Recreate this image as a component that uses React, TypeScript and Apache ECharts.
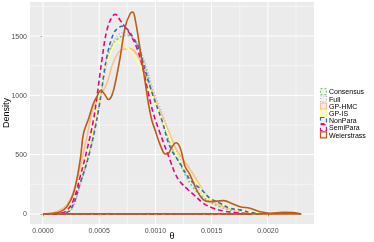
import React, { useEffect, useRef } from "react";
import * as echarts from "echarts";

// ---- data ----
const seriesNames = ["Consensus", "Full", "GP-HMC", "GP-IS", "NonPara", "SemiPara", "Weierstrass"];
const seriesColors = ["#7FC97F", "#BEAED4", "#FDC086", "#FFFF99", "#386CB0", "#F0027F", "#BF5B17"];

const consensusX = [0.00002, 0.000154, 0.000242, 0.000331, 0.00042, 0.000494, 0.000524, 0.000583, 0.000657, 0.000746, 0.00082, 0.000909, 0.000982, 0.001057, 0.00113, 0.001219, 0.001338, 0.001486, 0.001575, 0.001663, 0.001752, 0.00185, 0.0019];
const consensusY = [0, 5, 28, 260, 570, 930, 1100, 1352, 1470, 1506, 1460, 1240, 1000, 800, 600, 420, 220, 100, 60, 35, 18, 5, 0];

const fullX = [0.00002, 0.000154, 0.000242, 0.000331, 0.00042, 0.000494, 0.000553, 0.000613, 0.000671, 0.000731, 0.000775, 0.000835, 0.000909, 0.000982, 0.001071, 0.00113, 0.001219, 0.001308, 0.001397, 0.001486, 0.001575, 0.001663, 0.001752, 0.00185, 0.00195];
const fullY = [0, 5, 25, 240, 540, 880, 1200, 1420, 1510, 1530, 1505, 1445, 1270, 1040, 820, 650, 460, 310, 205, 125, 78, 45, 25, 10, 0];

const gpHmcX = [0, 0.000065, 0.000154, 0.000213, 0.000272, 0.000331, 0.000391, 0.000449, 0.000509, 0.000568, 0.000627, 0.000702, 0.000775, 0.000849, 0.000924, 0.001012, 0.001101, 0.00119, 0.001293, 0.001368, 0.001456, 0.001515, 0.001604, 0.001723, 0.00185, 0.00199, 0.0021];
const gpHmcY = [0, 5, 34, 76, 188, 398, 650, 903, 995, 1100, 1281, 1385, 1394, 1323, 1155, 931, 735, 538, 398, 286, 150, 100, 60, 30, 12, 3, 0];

const gpIsX = [0.00002, 0.000154, 0.000242, 0.000331, 0.00042, 0.000494, 0.000553, 0.000613, 0.000657, 0.000687, 0.000731, 0.000775, 0.000835, 0.000924, 0.001012, 0.001101, 0.001219, 0.001368, 0.001456, 0.001575, 0.001723, 0.0019, 0.002];
const gpIsY = [0, 12, 45, 290, 600, 950, 1240, 1380, 1450, 1440, 1408, 1380, 1296, 1100, 903, 707, 440, 258, 146, 90, 34, 11, 0];

const nonParaX = [0.00002, 0.000154, 0.000242, 0.000331, 0.00042, 0.000494, 0.000568, 0.000627, 0.000665, 0.000702, 0.00076, 0.000805, 0.000849, 0.000909, 0.000982, 0.001057, 0.00113, 0.001219, 0.001308, 0.001412, 0.001486, 0.001575, 0.001663, 0.001752, 0.001856, 0.00195];
const nonParaY = [0, 5, 34, 258, 538, 875, 1323, 1520, 1565, 1582, 1548, 1480, 1408, 1211, 987, 791, 566, 427, 290, 202, 132, 90, 48, 34, 11, 0];

const semiParaX = [0.00002, 0.000154, 0.000213, 0.000272, 0.000331, 0.000391, 0.000449, 0.00048, 0.000524, 0.000568, 0.000613, 0.000642, 0.000687, 0.000731, 0.000775, 0.000835, 0.000893, 0.000938, 0.000982, 0.001042, 0.00113, 0.001175, 0.001219, 0.001293, 0.001338, 0.001426, 0.001515, 0.001604, 0.001708, 0.00185];
const semiParaY = [0, 5, 30, 118, 314, 538, 791, 987, 1296, 1548, 1660, 1683, 1632, 1575, 1515, 1400, 1211, 1015, 847, 679, 454, 342, 272, 202, 165, 90, 48, 25, 11, 0];

const weierX = [0, 0.00006, 0.000154, 0.000213, 0.000272, 0.000331, 0.000361, 0.000405, 0.000449, 0.00048, 0.000515, 0.000548, 0.000583, 0.000613, 0.000642, 0.000687, 0.000731, 0.000775, 0.000799, 0.000822, 0.000849, 0.000875, 0.000909, 0.000938, 0.000968, 0.001, 0.001027, 0.001071, 0.001093, 0.001115, 0.001145, 0.001182, 0.001219, 0.001264, 0.001308, 0.001368, 0.001426, 0.001486, 0.00155, 0.001604, 0.001663, 0.001752, 0.001841, 0.00193, 0.002019, 0.002137, 0.002226, 0.002296];
const weierY = [0, 3, 19, 61, 174, 454, 680, 800, 931, 990, 1043, 1010, 965, 1000, 1100, 1323, 1576, 1688, 1702, 1630, 1480, 1320, 1110, 930, 790, 700, 622, 520, 505, 510, 560, 600, 560, 400, 330, 200, 120, 103, 108, 112, 95, 61, 48, 19, 6, 14, 11, 0];

const thetaTicks = [0, 0.0005, 0.001, 0.0015, 0.002];
const thetaMinor = [0.00025, 0.00075, 0.00125, 0.00175, 0.00225];
const densityTicks = [0, 500, 1000, 1500];
const densityMinor = [250, 750, 1250, 1750];

const seriesX = [consensusX, fullX, gpHmcX, gpIsX, nonParaX, semiParaX, weierX];
const seriesY = [consensusY, fullY, gpHmcY, gpIsY, nonParaY, semiParaY, weierY];

const FONT = "'Liberation Sans', Arial, sans-serif";

export default function App() {
  const ref = useRef<HTMLDivElement>(null);
  useEffect(() => {
    if (!ref.current) return;
    const chart = echarts.init(ref.current, null, { renderer: "svg" });
    const xMin = -0.000115, xMax = 0.00241, yMin = -85, yMax = 1787;
    const dashes: any[] = [[2, 2], [1, 2], "solid", "solid", [4, 3], [5, 3], "solid"];

    const gridSeries: any[] = [];
    const addV = (v: number, w: number) => gridSeries.push({
      type: "line", data: [[v, yMin], [v, yMax]], symbol: "none", silent: true, z: 1,
      lineStyle: { color: "#FFFFFF", width: w }, tooltip: { show: false },
    });
    const addH = (v: number, w: number) => gridSeries.push({
      type: "line", data: [[xMin, v], [xMax, v]], symbol: "none", silent: true, z: 1,
      lineStyle: { color: "#FFFFFF", width: w }, tooltip: { show: false },
    });
    thetaMinor.forEach((v) => addV(v, 0.5));
    densityMinor.forEach((v) => addH(v, 0.5));
    thetaTicks.forEach((v) => addV(v, 1));
    densityTicks.forEach((v) => addH(v, 1));

    const dataSeries: any[] = [];
    seriesNames.forEach((name, i) => {
      const xs = seriesX[i], ys = seriesY[i];
      dataSeries.push({
        name, type: "line", smooth: 0.4, symbol: "none", z: 3,
        data: xs.map((x, j) => [x, ys[j]]),
        lineStyle: { color: seriesColors[i], width: 1.6, type: dashes[i] },
        itemStyle: { color: seriesColors[i] },
      });
      dataSeries.push({
        name, type: "line", symbol: "none", z: 3,
        data: [[xs[0], 0], [xs[xs.length - 1], 0]],
        lineStyle: { color: seriesColors[i], width: 1.6, type: dashes[i] },
        itemStyle: { color: seriesColors[i] },
      });
    });

    const legendTop = 88.2, legendStep = 7.2;
    const legendGraphics: any[] = [];
    seriesNames.forEach((name, i) => {
      const y = legendTop + i * legendStep;
      legendGraphics.push({
        type: "rect", shape: { x: 320.5, y: y + 0.5, width: 6, height: 6 },
        style: { fill: "#F2F2F2", stroke: seriesColors[i], lineWidth: 1.2, lineDash: Array.isArray(dashes[i]) ? dashes[i] : null },
      });
      legendGraphics.push({
        type: "text", x: 329, y: y + 3.6,
        style: { text: name, fontSize: 7, fontFamily: FONT, fill: "#000", verticalAlign: "middle", align: "left" },
      });
    });

    chart.setOption({
      animation: false,
      grid: {
        left: 30, right: 60, top: 2, bottom: 18, show: true, backgroundColor: "#EBEBEB", borderWidth: 0,
        containLabel: false, outerBoundsMode: "none",
      },
      xAxis: {
        type: "value", min: xMin, max: xMax,
        name: "θ", nameLocation: "middle", nameGap: 7, nameMoveOverlap: false,
        nameTextStyle: { fontSize: 9, color: "#000", fontFamily: FONT },
        axisLine: { show: false },
        axisTick: { show: true, customValues: thetaTicks, length: 2.5, lineStyle: { color: "#333333", width: 0.8 } },
        axisLabel: { customValues: thetaTicks, formatter: (v: number) => v.toFixed(4), fontSize: 7, color: "#4D4D4D", margin: 3, fontFamily: FONT },
        splitLine: { show: false },
      },
      yAxis: {
        type: "value", min: yMin, max: yMax,
        name: "Density", nameLocation: "middle", nameGap: 20, nameRotate: 90, nameMoveOverlap: false,
        nameTextStyle: { fontSize: 9, color: "#000", fontFamily: FONT },
        axisLine: { show: false },
        axisTick: { show: true, customValues: densityTicks, length: 2.5, lineStyle: { color: "#333333", width: 0.8 } },
        axisLabel: { customValues: densityTicks, formatter: (v: number) => String(Math.round(v)), fontSize: 7, color: "#4D4D4D", margin: 3, fontFamily: FONT },
        splitLine: { show: false },
      },
      graphic: legendGraphics,
      series: [...gridSeries, ...dataSeries],
    });
    return () => chart.dispose();
  }, []);
  return <div ref={ref} style={{ position: "fixed", left: 0, top: 0, width: 374, height: 242 }} />;
}
